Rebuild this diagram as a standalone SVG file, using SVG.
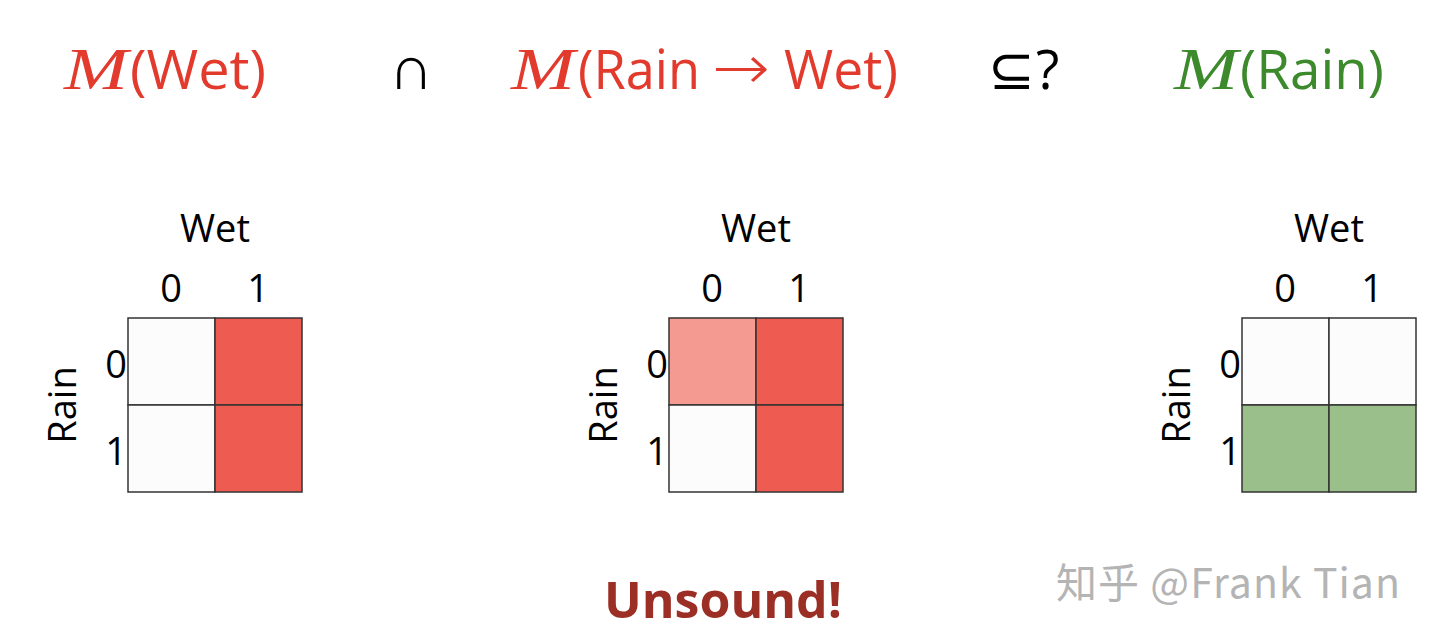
<svg xmlns="http://www.w3.org/2000/svg" width="1440" height="642" viewBox="0 0 1440 642">
<style>
.t{font-family:"Open Sans","Liberation Sans",sans-serif;}
.cal{font-family:"Liberation Serif",serif;font-style:italic;}
.sym{font-family:"DejaVu Sans ExtraLight","DejaVu Sans",sans-serif;font-weight:200;}
.red{fill:#E23A2C;}
.grn{fill:#3C8A2C;}
.lbl{font-family:"Open Sans","Liberation Sans",sans-serif;font-size:38px;fill:#000;}
.cell{stroke:#333;stroke-width:1.5;}
.w{fill:#FCFCFC;}
.r{fill:#EE5B50;}
.lr{fill:#F49A91;}
.g{fill:#9ABF8A;}
</style>
<rect width="1440" height="642" fill="#fff"/>
<g id="title">
<text x="64" y="89" font-size="60" class="cal red" textLength="64" lengthAdjust="spacingAndGlyphs">M</text>
<text x="130" y="89" font-size="54" class="t red" textLength="136" lengthAdjust="spacingAndGlyphs">(Wet)</text>
<text x="389" y="89" font-size="62" class="sym" fill="#000">∩</text>
<text x="511" y="89" font-size="60" class="cal red" textLength="64" lengthAdjust="spacingAndGlyphs">M</text>
<text x="578" y="89" font-size="54" class="t red" textLength="122" lengthAdjust="spacingAndGlyphs">(Rain</text>
<text x="712" y="89" font-size="62" class="sym red" textLength="58" lengthAdjust="spacingAndGlyphs">→</text>
<text x="784" y="89" font-size="54" class="t red" textLength="114" lengthAdjust="spacingAndGlyphs">Wet)</text>
<text x="988" y="89" font-size="56" class="sym" fill="#000">⊆</text>
<text x="1036" y="89" font-size="54" class="t" fill="#000">?</text>
<text x="1174" y="89" font-size="60" class="cal grn" textLength="64" lengthAdjust="spacingAndGlyphs">M</text>
<text x="1240" y="89" font-size="54" class="t grn" textLength="144" lengthAdjust="spacingAndGlyphs">(Rain)</text>
</g>
<g id="grid1">
<text x="215" y="242" text-anchor="middle" class="lbl">Wet</text>
<text x="171" y="302" text-anchor="middle" class="lbl">0</text>
<text x="258" y="302" text-anchor="middle" class="lbl">1</text>
<text x="127" y="378" text-anchor="end" class="lbl">0</text>
<text x="127" y="465" text-anchor="end" class="lbl">1</text>
<text transform="translate(76,405) rotate(-90)" text-anchor="middle" class="lbl">Rain</text>
<rect x="128" y="318" width="87" height="87" class="cell w"/>
<rect x="215" y="318" width="87" height="87" class="cell r"/>
<rect x="128" y="405" width="87" height="87" class="cell w"/>
<rect x="215" y="405" width="87" height="87" class="cell r"/>
</g>
<g id="grid2">
<text x="756" y="242" text-anchor="middle" class="lbl">Wet</text>
<text x="712" y="302" text-anchor="middle" class="lbl">0</text>
<text x="799" y="302" text-anchor="middle" class="lbl">1</text>
<text x="668" y="378" text-anchor="end" class="lbl">0</text>
<text x="668" y="465" text-anchor="end" class="lbl">1</text>
<text transform="translate(617,405) rotate(-90)" text-anchor="middle" class="lbl">Rain</text>
<rect x="669" y="318" width="87" height="87" class="cell lr"/>
<rect x="756" y="318" width="87" height="87" class="cell r"/>
<rect x="669" y="405" width="87" height="87" class="cell w"/>
<rect x="756" y="405" width="87" height="87" class="cell r"/>
</g>
<g id="grid3">
<text x="1329" y="242" text-anchor="middle" class="lbl">Wet</text>
<text x="1285" y="302" text-anchor="middle" class="lbl">0</text>
<text x="1372" y="302" text-anchor="middle" class="lbl">1</text>
<text x="1241" y="378" text-anchor="end" class="lbl">0</text>
<text x="1241" y="465" text-anchor="end" class="lbl">1</text>
<text transform="translate(1190,405) rotate(-90)" text-anchor="middle" class="lbl">Rain</text>
<rect x="1242" y="318" width="87" height="87" class="cell w"/>
<rect x="1329" y="318" width="87" height="87" class="cell w"/>
<rect x="1242" y="405" width="87" height="87" class="cell g"/>
<rect x="1329" y="405" width="87" height="87" class="cell g"/>
</g>
<g id="verdict">
<text x="723" y="618" text-anchor="middle" font-size="50" font-weight="bold" class="t" fill="#9C2F25">Unsound!</text>
</g>
<g id="watermark">
<text x="1056" y="598" font-size="41" fill="#B4B4B4" textLength="344" lengthAdjust="spacing" font-family="'Noto Sans CJK SC','Liberation Sans',sans-serif">知乎 @Frank Tian</text>
</g>
</svg>
